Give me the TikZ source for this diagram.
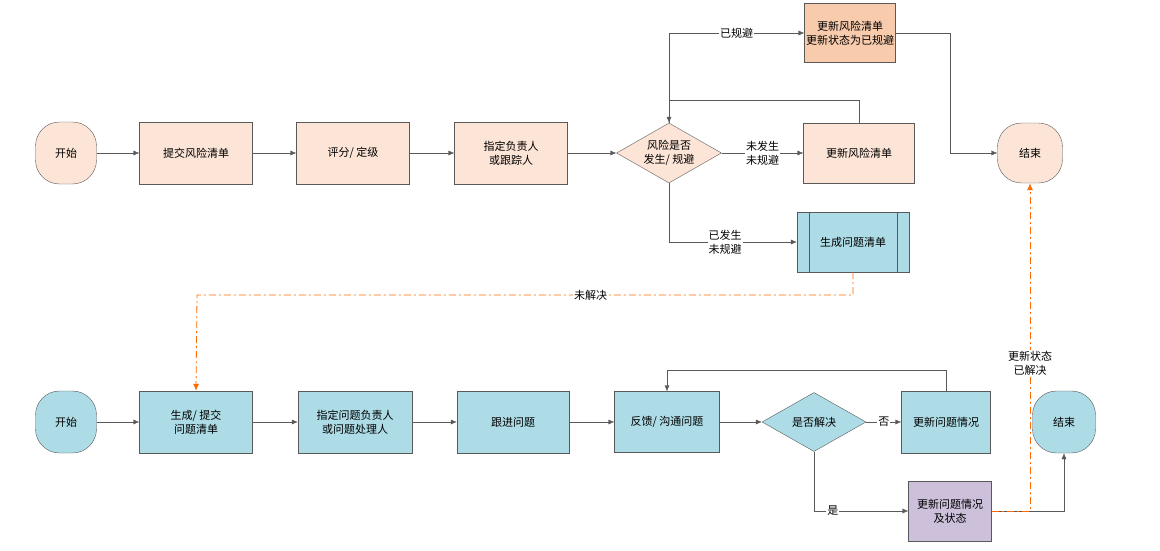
\documentclass[tikz,border=0pt]{standalone}
\usepackage{fontspec}
\setmainfont{Noto Sans CJK SC}
\usetikzlibrary{shapes.geometric,arrows.meta}
\definecolor{peach}{HTML}{FCE4D6}
\definecolor{salmon}{HTML}{F8CBAD}
\definecolor{sky}{HTML}{ADDCE6}
\definecolor{lilac}{HTML}{CCC0DA}
\definecolor{flame}{HTML}{FF6A00}
\begin{document}
\begin{tikzpicture}[x=1pt,y=-1pt,font=\fontsize{11}{14}\selectfont,
  box/.style={draw=gray!70!black,rectangle,minimum width=113pt,minimum height=62pt,align=center,inner sep=1pt},
  term/.style={draw=gray!70!black,rectangle,rounded corners=24pt,minimum width=61pt,minimum height=62pt,inner sep=1pt},
  decide/.style={draw=gray!70!black,diamond,aspect=1.75,minimum width=105pt,minimum height=60pt,inner sep=0pt,align=center},
  line/.style={draw=gray!70!black,-{Latex[length=6pt,width=5pt]}},
  link/.style={draw=flame,thick,dash pattern=on 7pt off 3pt on 2pt off 3pt,-{Latex[length=7pt,width=6pt]}},
  tag/.style={fill=white,inner sep=1pt,align=center}]
\useasboundingbox (0,0) rectangle (1160,551);
% risk flow
\node[term,fill=peach] (start1) at (66,153) {开始};
\node[box,fill=peach] (add) at (196,153) {提交风险清单};
\node[box,fill=peach] (rate) at (353,153) {评分/ 定级};
\node[box,fill=peach] (owner) at (511,153) {指定负责人\\或跟踪人};
\node[decide,fill=peach] (risk) at (669,153) {风险是否\\发生/ 规避};
\node[box,fill=peach,minimum width=111pt,minimum height=60pt] (update) at (859,153) {更新风险清单};
\node[box,fill=salmon,minimum width=91pt,minimum height=59pt] (avoid) at (850,33) {更新风险清单\\更新状态为已规避};
\node[term,fill=peach,minimum width=65pt,minimum height=60pt] (end1) at (1030,153) {结束};
\node[box,fill=sky,minimum width=112pt,minimum height=60pt] (issue) at (853,242) {生成问题清单};
\draw[gray!70!black] ([xshift=12pt]issue.north west) -- ([xshift=12pt]issue.south west)
  ([xshift=-12pt]issue.north east) -- ([xshift=-12pt]issue.south east);
% issue flow
\node[term,fill=sky] (start2) at (66,422) {开始};
\node[box,fill=sky] (submit) at (196,422) {生成/ 提交\\问题清单};
\node[box,fill=sky,minimum width=114pt] (handler) at (355,422) {指定问题负责人\\或问题处理人};
\node[box,fill=sky,minimum width=112pt] (track) at (513,422) {跟进问题};
\node[box,fill=sky,minimum width=105pt,minimum height=61pt] (talk) at (667,422) {反馈/ 沟通问题};
\node[decide,fill=sky,minimum width=104pt,minimum height=59pt] (solved) at (814,422) {是否解决};
\node[box,fill=sky,minimum width=89pt] (note) at (946,422) {更新问题情况};
\node[box,fill=lilac,minimum width=83pt,minimum height=60pt] (close) at (950,511) {更新问题情况\\及状态};
\node[term,fill=sky,minimum width=63pt] (end2) at (1064,422) {结束};
\coordinate (turn) at (1030,511);
% connectors
\draw[line] (start1) -- (add);
\draw[line] (add) -- (rate);
\draw[line] (rate) -- (owner);
\draw[line] (owner) -- (risk);
\draw[line] (risk) -- node[tag] {未发生\\未规避} (update);
\draw[line] (risk.north) |- node[tag,pos=0.75] {已规避} (avoid);
\draw[line] (update.north) |- (669,100) -- (risk.north);
\draw[line] (avoid.east) -| (950,153) -- (end1);
\draw[line] (risk.south) |- node[tag,pos=0.72] {已发生\\未规避} (issue);
\draw[link] (issue.south) |- node[tag,pos=0.7] {未解决} (197,295) -- (submit.north);
\draw[line] (start2) -- (submit);
\draw[line] (submit) -- (handler);
\draw[line] (handler) -- (track);
\draw[line] (track) -- (talk);
\draw[line] (talk) -- (solved);
\draw[line] (solved) -- node[tag] {否} (note);
\draw[line] (note.north) |- (667,370) -- (talk.north);
\draw[line] (solved.south) |- node[tag,pos=0.6] {是} (close);
\draw[line] (close.east) -| (end2.south);
\draw[link] (close.east) -- (turn) -- node[tag,pos=0.45] {更新状态\\已解决} (end1.south);
\end{tikzpicture}
\end{document}
